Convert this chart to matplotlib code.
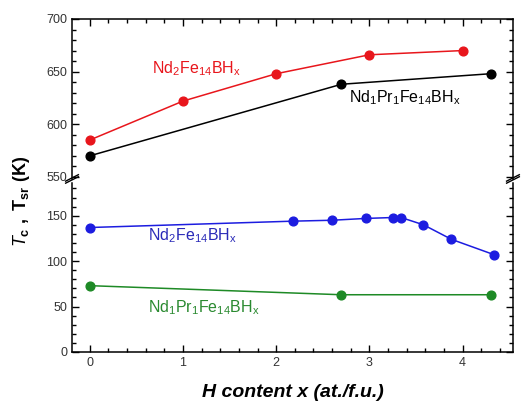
import matplotlib
matplotlib.use("Agg")
import matplotlib.pyplot as plt
from matplotlib.ticker import MultipleLocator

plt.rcParams['font.family'] = ['Liberation Sans', 'DejaVu Sans']
plt.rcParams['mathtext.fontset'] = 'custom'
plt.rcParams['mathtext.rm'] = 'Liberation Sans'
plt.rcParams['mathtext.it'] = 'Liberation Sans:italic'
plt.rcParams['mathtext.bf'] = 'Liberation Sans:bold'

# Tc of Nd2Fe14BHx
nd_x = [0, 1, 2, 3, 4]
nd_tc = [585, 622, 648, 666, 670]

# Tc of Nd1Pr1Fe14BHx
ndpr_x = [0, 2.7, 4.3]
ndpr_tc = [570, 638, 648]

# Tsr of Nd2Fe14BHx
nd_sr_x = [0, 2.18, 2.6, 2.96, 3.25, 3.34, 3.58, 3.88, 4.34]
nd_sr = [137, 144, 145, 147, 148, 148, 140, 124, 107]

# Tsr of Nd1Pr1Fe14BHx
ndpr_sr_x = [0, 2.7, 4.3]
ndpr_sr = [73, 63, 63]

RED = '#e8161c'
BLUE = '#1c1ce0'
GREEN = '#1e8a26'

fig = plt.figure(figsize=(5.31, 4.03), dpi=100)
ax_top = fig.add_axes([0.1356, 0.5558, 0.8304, 0.3971])
ax_bot = fig.add_axes([0.1356, 0.1266, 0.8304, 0.4193])

ax_top.plot(nd_x, nd_tc, '-o', color=RED, lw=1.1, ms=6.3)
ax_top.plot(ndpr_x, ndpr_tc, '-o', color='black', lw=1.1, ms=6.3)
ax_bot.plot(nd_sr_x, nd_sr, '-o', color=BLUE, lw=1.1, ms=6.3)
ax_bot.plot(ndpr_sr_x, ndpr_sr, '-o', color=GREEN, lw=1.1, ms=6.3)

label = r'Nd$_2$Fe$_{14}$BH$_\mathrm{x}$'
label2 = r'Nd$_1$Pr$_1$Fe$_{14}$BH$_\mathrm{x}$'
ax_top.text(0.67, 648, label, color=RED, fontsize=11.5, va='baseline')
ax_top.text(2.78, 621, label2, color='black', fontsize=11.5, va='baseline')
ax_bot.text(0.62, 123, label, color='#2a2ab8', fontsize=11.5, va='baseline')
ax_bot.text(0.62, 44, label2, color='#2a8a30', fontsize=11.5, va='baseline')

for ax in (ax_top, ax_bot):
    ax.set_xlim(-0.19, 4.54)
    ax.xaxis.set_major_locator(MultipleLocator(1))
    ax.xaxis.set_minor_locator(MultipleLocator(0.2))
    ax.yaxis.set_major_locator(MultipleLocator(50))
    ax.yaxis.set_minor_locator(MultipleLocator(10))
    ax.tick_params(which='both', direction='in', left=True, right=True,
                   labelsize=9, labelcolor='#333333', width=1)
    ax.tick_params(which='major', length=5)
    ax.tick_params(which='minor', length=3)
    for s in ax.spines.values():
        s.set_linewidth(1.1)

ax_top.set_ylim(548, 700)
ax_bot.set_ylim(0, 186)

ax_top.spines['bottom'].set_visible(False)
ax_bot.spines['top'].set_visible(False)
ax_top.tick_params(which='both', top=True, bottom=False, labelbottom=False)
ax_bot.tick_params(which='both', top=False, bottom=True)

# break marks on both sides
for xf in (0.1356, 0.966):
    for yf in (0.5535, 0.5585):
        fig.add_artist(plt.Line2D([xf - 0.012, xf + 0.012], [yf - 0.008, yf + 0.008],
                                  color='black', lw=1.0))

ax_bot.set_xlabel('H content x (at./f.u.)', fontsize=14, fontweight='bold',
                  fontstyle='italic', labelpad=11)
fig.text(0.04, 0.5, r'$\mathbf{\mathit{T}_{c}}$ $\mathbf{,\ T_{sr}\ (K)}$',
         rotation=90, fontsize=13, ha='center', va='center')

fig.savefig('out.png', dpi=100)
